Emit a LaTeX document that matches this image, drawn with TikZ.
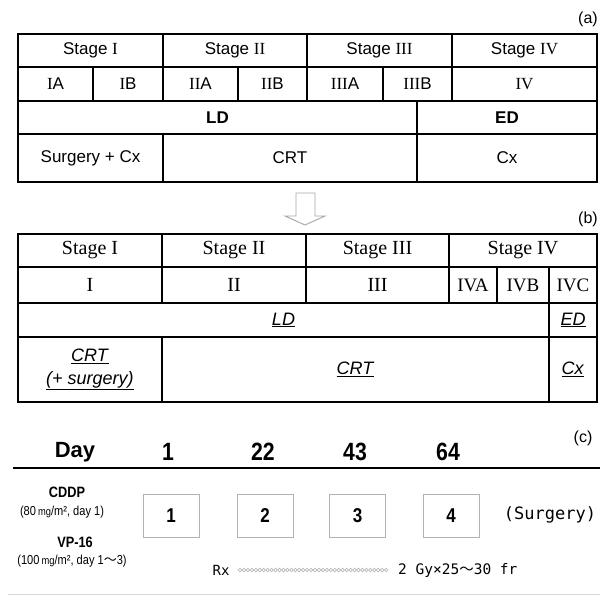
\documentclass[tikz,border=0pt]{standalone}
\usepackage{fontspec}
\setmainfont{Liberation Sans}
\setmonofont{DejaVu Sans Mono}
\newfontfamily\serfont{Liberation Serif}
\newfontfamily\condfont[FakeStretch=0.85]{Liberation Sans}
\newfontfamily\numfont[FakeStretch=0.85]{Liberation Sans}
\newfontfamily\jpfont{Noto Sans CJK JP}
\newcommand\fsz[1]{\fontsize{#1}{#1}\selectfont}
\newcommand\rn[1]{{\serfont #1}}
\newcommand\uit[1]{\underline{\textit{#1}}}
\newcommand\wave{{\jpfont ～}}

\begin{document}
\begin{tikzpicture}[x=1pt,y=-1pt,
  cell/.style 2 args={draw,line width=1.3pt,inner sep=0pt,outer sep=0pt,minimum width=#1pt,minimum height=#2pt},
  fa/.style={font=\fsz{17}},
  fb/.style={font=\serfont\fsz{20}},
  fbi/.style={font=\fsz{18}},
  dose/.style={draw=gray!60,line width=1pt,minimum width=56pt,minimum height=43pt,font=\numfont\bfseries\fsz{20}},
  daynum/.style={font=\numfont\bfseries\fsz{25}},
  drug/.style={font=\condfont\bfseries\fsz{15}},
  drugdose/.style={font=\condfont\fsz{13}},
  tag/.style={font=\fsz{16}}]
\useasboundingbox (0,0) rectangle (608,595);
% (a) old staging
\node[tag] (lab-a) at (588,19) {(a)};
\node[cell={145}{33},fa] (a-s1) at (90.5,50.5) {Stage \rn{I}};
\node[cell={144}{33},fa] (a-s2) at (235,50.5) {Stage \rn{II}};
\node[cell={145}{33},fa] (a-s3) at (379.5,50.5) {Stage \rn{III}};
\node[cell={145}{33},fa] (a-s4) at (524.5,50.5) {Stage \rn{IV}};
\node[cell={75}{34},fa] (a-ia) at (55.5,84) {\rn{I}A};
\node[cell={70}{34},fa] (a-ib) at (128,84) {\rn{I}B};
\node[cell={75}{34},fa] (a-iia) at (200.5,84) {\rn{II}A};
\node[cell={69}{34},fa] (a-iib) at (272.5,84) {\rn{II}B};
\node[cell={76}{34},fa] (a-iiia) at (345,84) {\rn{III}A};
\node[cell={69}{34},fa] (a-iiib) at (417.5,84) {\rn{III}B};
\node[cell={145}{34},fa] (a-iv) at (524.5,84) {\rn{IV}};
\node[cell={399}{33},fa] (a-ld) at (217.5,117.5) {\textbf{LD}};
\node[cell={180}{33},fa] (a-ed) at (507,117.5) {\textbf{ED}};
\node[cell={145}{48},fa] (a-sc) at (90.5,158) {Surgery + Cx};
\node[cell={254}{48},fa] (a-crt) at (290,158) {CRT};
\node[cell={180}{48},fa] (a-cx) at (507,158) {Cx};
% hollow arrow
\draw[gray!70,fill=white,line width=0.9pt] (296,193) -- (296,216) -- (285,216) -- (305,225)
  -- (325,216) -- (315,216) -- (315,193) -- cycle;
% (b) new staging
\node[tag] (lab-b) at (588,219) {(b)};
\node[cell={144}{33},fb] (b-s1) at (90,250.5) {Stage I};
\node[cell={144}{33},fb] (b-s2) at (234,250.5) {Stage II};
\node[cell={143}{33},fb] (b-s3) at (377.5,250.5) {Stage III};
\node[cell={148}{33},fb] (b-s4) at (523,250.5) {Stage IV};
\node[cell={144}{36},fb] (b-i) at (90,285) {I};
\node[cell={144}{36},fb] (b-ii) at (234,285) {II};
\node[cell={143}{36},fb] (b-iii) at (377.5,285) {III};
\node[cell={48}{36},fb,font=\serfont\fsz{19}] (b-iva) at (473,285) {IVA};
\node[cell={52}{36},fb,font=\serfont\fsz{19}] (b-ivb) at (523,285) {IVB};
\node[cell={48}{36},fb,font=\serfont\fsz{19}] (b-ivc) at (573,285) {IVC};
\node[cell={531}{34},fbi] (b-ld) at (283.5,320) {\uit{LD}};
\node[cell={48}{34},fbi] (b-ed) at (573,320) {\uit{ED}};
\node[cell={144}{65},fbi,align=center] (b-crts) at (90,369.5) {\uit{CRT}\\[5pt]\uit{(+ surgery)}};
\node[cell={387}{65},fbi] (b-crt) at (355.5,369.5) {\uit{CRT}};
\node[cell={48}{65},fbi] (b-cx) at (573,369.5) {\uit{Cx}};
% (c) schedule
\node[tag] (lab-c) at (583,438) {(c)};
\node[font=\bfseries\fsz{22}] (day) at (75,452) {Day};
\node[daynum] (d1) at (168,452) {1};
\node[daynum] (d22) at (263,452) {22};
\node[daynum] (d43) at (355,452) {43};
\node[daynum] (d64) at (448,452) {64};
\draw[line width=2.2pt] (13,468) -- (600,468);
\node[drug] (cddp) at (67,492) {CDDP};
\node[drugdose] (cddp-d) at (62,512) {(80\,{\fsz{11}mg}/m², day 1)};
\node[drug] (vp) at (75,542) {VP-16};
\node[drugdose] (vp-d) at (72,561) {(100\,{\fsz{11}mg}/m², day 1\wave 3)};
\node[dose] (c1) at (171,515.5) {1};
\node[dose] (c2) at (265,515.5) {2};
\node[dose] (c3) at (357.5,515.5) {3};
\node[dose] (c4) at (451,515.5) {4};
\node[font=\ttfamily\fsz{17}] (surg) at (550,515) {(Surgery)};
\node[font=\ttfamily\fsz{14}] (rx) at (221,570) {Rx};
\foreach \k in {0,...,37}
  \draw[gray!55,line width=0.7pt] ({240+\k*3.95},570) circle[radius=1.8pt];
\node[font=\ttfamily\fsz{14.5},anchor=west,inner sep=0pt] (frac) at (398,570) {2 Gy×25\wave 30 fr};
\draw[gray!30,line width=1pt] (8,594) -- (600,594);
\end{tikzpicture}
\end{document}
